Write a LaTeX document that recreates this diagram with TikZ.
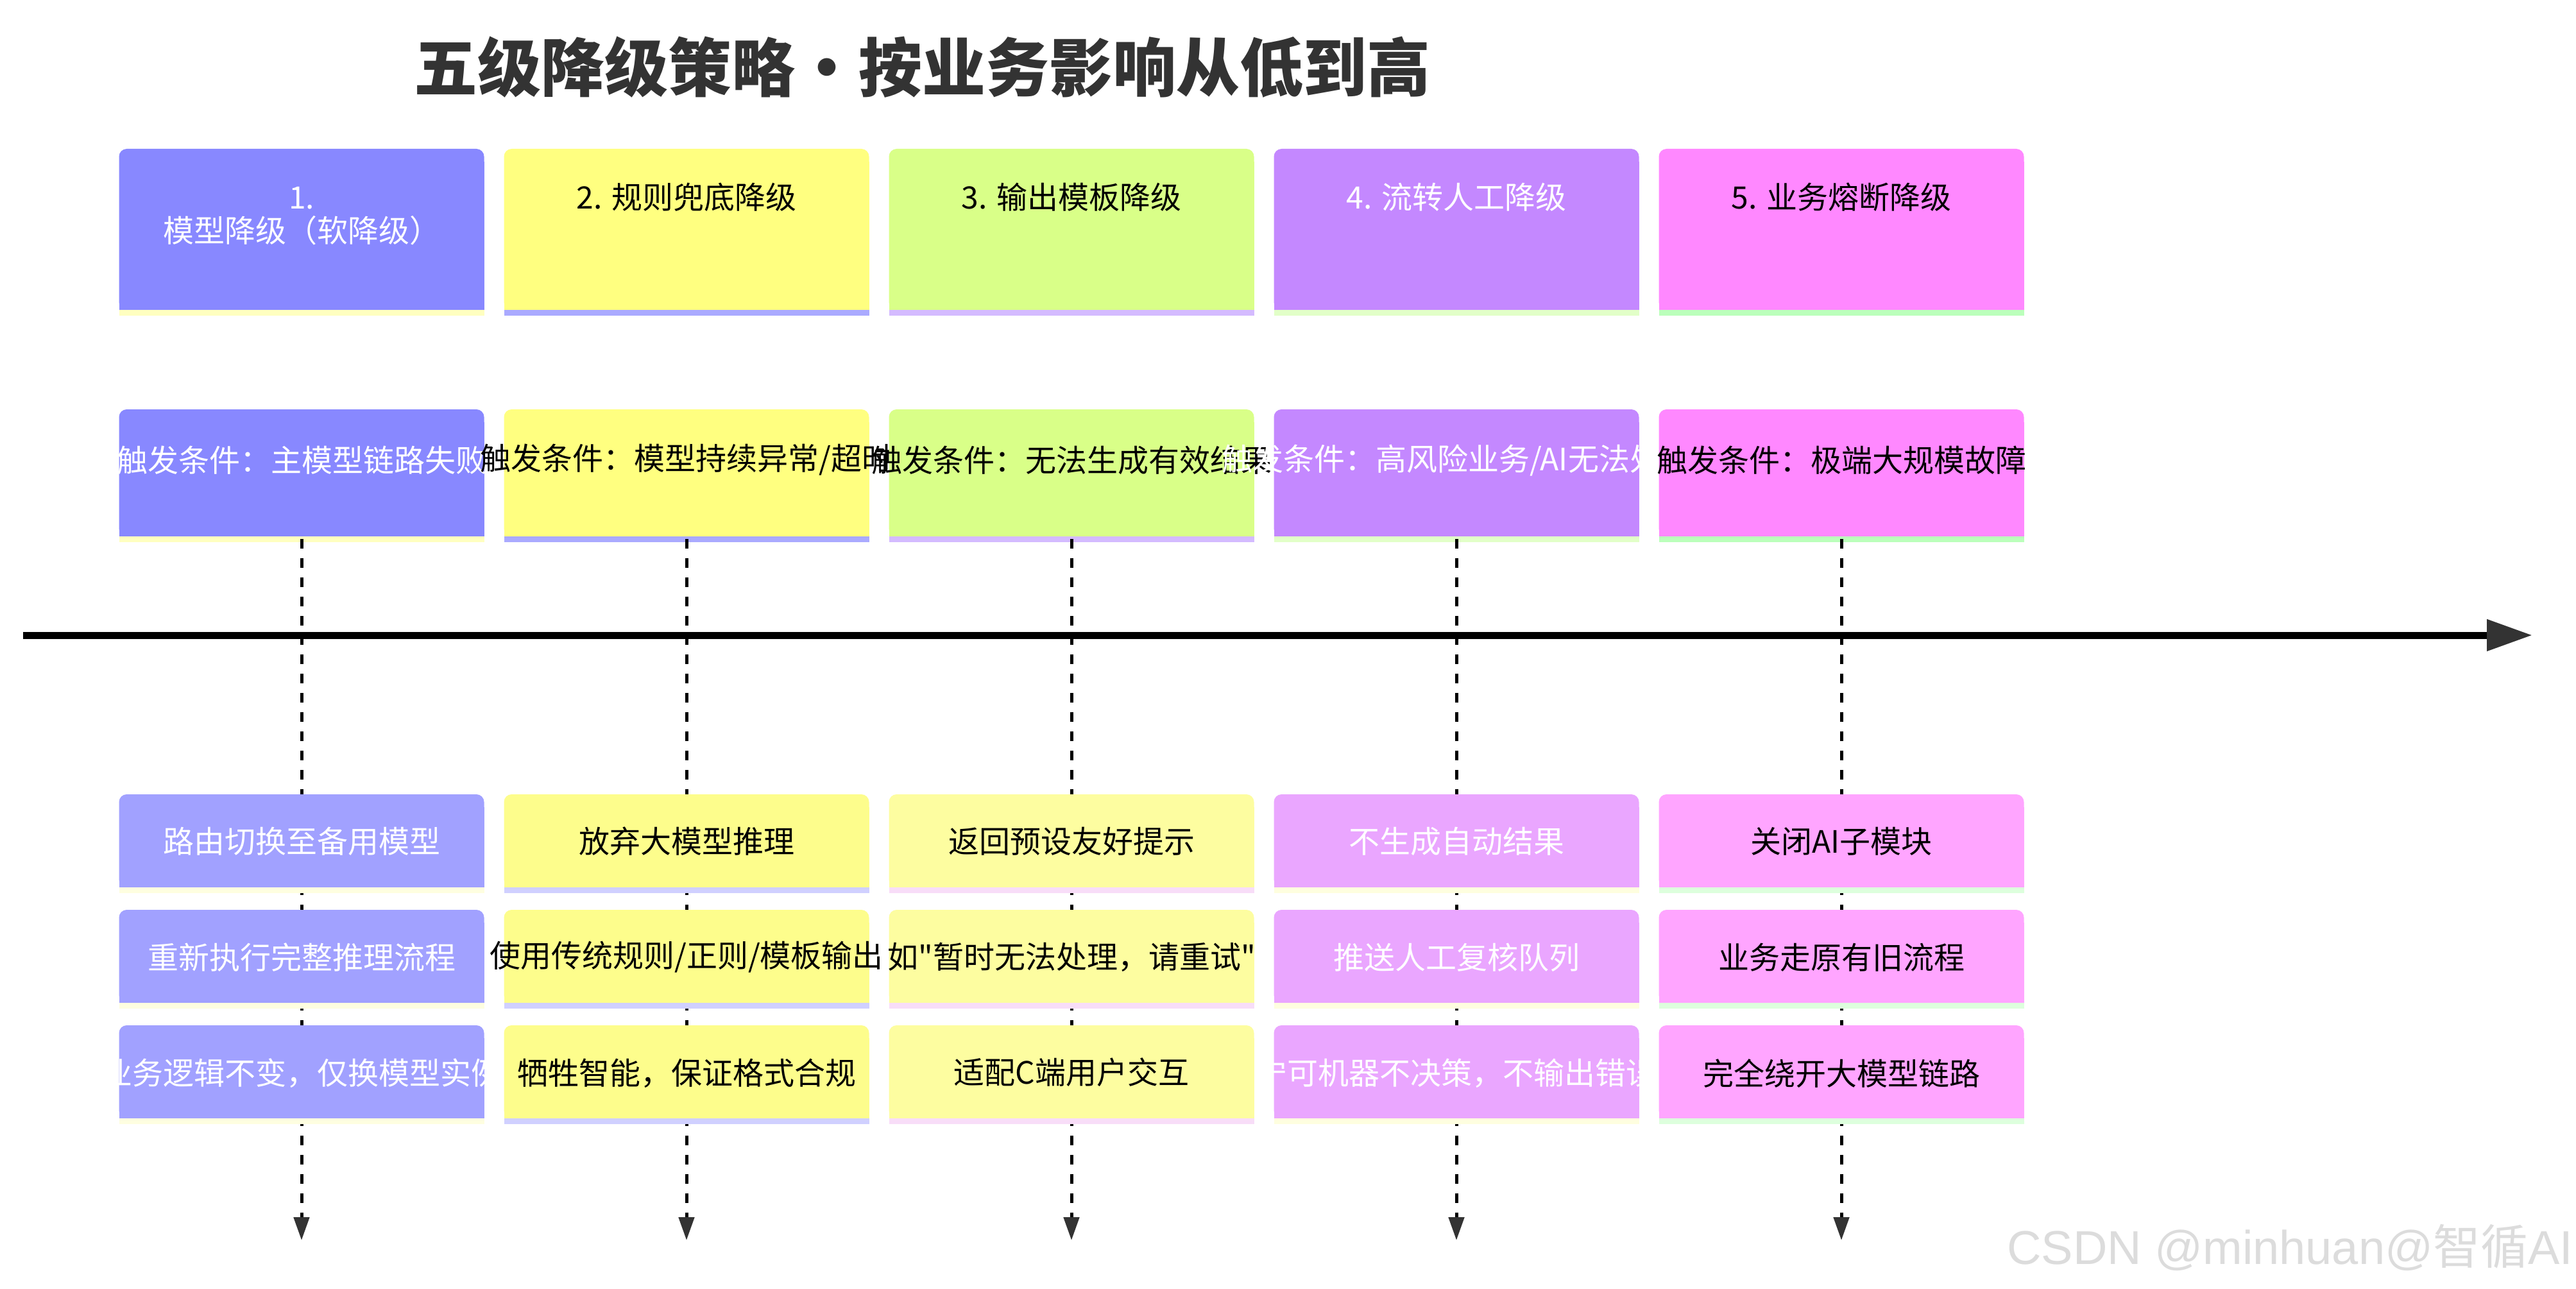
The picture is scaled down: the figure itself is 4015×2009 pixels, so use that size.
\documentclass[tikz,border=0pt]{standalone}
\usepackage{fontspec}
\setmainfont{Noto Sans CJK SC}
\newfontfamily\wmfont{Liberation Sans}
\usetikzlibrary{arrows.meta}
\definecolor{dk}{HTML}{333333}
\definecolor{wmc}{HTML}{DCDCDC}
% section header / trigger colours
\definecolor{hA}{HTML}{8888FF}\definecolor{sA}{HTML}{FFFFC0}
\definecolor{hB}{HTML}{FFFF80}\definecolor{sB}{HTML}{AAAAFF}
\definecolor{hC}{HTML}{D9FF88}\definecolor{sC}{HTML}{D4BBFF}
\definecolor{hD}{HTML}{C488FF}\definecolor{sD}{HTML}{E2FFC8}
\definecolor{hE}{HTML}{FF88FF}\definecolor{sE}{HTML}{BBFFBB}
% event colours
\definecolor{eA}{HTML}{A1A1FF}\definecolor{tA}{HTML}{FEFEE0}
\definecolor{eB}{HTML}{FDFD8C}\definecolor{tB}{HTML}{D0D0FF}
\definecolor{eC}{HTML}{FDFDA0}\definecolor{tC}{HTML}{F8DDF8}
\definecolor{eD}{HTML}{EAA6FF}\definecolor{tD}{HTML}{FEFEDF}
\definecolor{eE}{HTML}{FFA5FF}\definecolor{tE}{HTML}{DDFFDD}
% #1 centre x, #2 top y, #3 bottom y of the coloured part, #4 fill, #5 stripe
\newcommand\tlbox[5]{%
  \fill[#4, rounded corners=12pt] ({#1-284.5},#2) rectangle ({#1+284.5},#3);
  \fill[#4] ({#1-284.5},{#2+20}) rectangle ({#1+284.5},#3);
  \fill[#5] ({#1-284.5},#3) rectangle ({#1+284.5},{#3+9});}
% straight ASCII double quote, bypassing the tex-text mapping
\newcommand\sq{\XeTeXglyph\XeTeXcharglyph"22\relax}
\begin{document}
\begin{tikzpicture}[x=1pt,y=-1pt,
  txt/.style={inner sep=0pt, anchor=center, font=\fontsize{48}{50}\selectfont},
  wtxt/.style={txt, text=white},
  btxt/.style={txt, text=black},
  dashline/.style={line width=5pt, black, dash pattern=on 15pt off 15pt,
     -{Triangle[length=36pt,width=24pt,color=dk]}},
  axisline/.style={line width=11pt, black, -{Triangle[length=71pt,width=47pt,color=dk]}}]
\useasboundingbox (0,0) rectangle (4015,2009);
\fill[white] (0,0) rectangle (4015,2009);

% title
\node[inner sep=0pt, font=\fontsize{99}{104}\selectfont\bfseries, text=dk] (title) at (1437,105) {五级降级策略·按业务影响从低到高};

% header row
\tlbox{470}{232}{483}{hA}{sA}
\node[wtxt] (h1a) at (470,309) {1.};
\node[wtxt] (h1b) at (470,359) {模型降级（软降级）};
\tlbox{1070}{232}{483}{hB}{sB}
\node[btxt] (h2) at (1070,307) {2. 规则兜底降级};
\tlbox{1670}{232}{483}{hC}{sC}
\node[btxt] (h3) at (1670,307) {3. 输出模板降级};
\tlbox{2270}{232}{483}{hD}{sD}
\node[wtxt] (h4) at (2270,307) {4. 流转人工降级};
\tlbox{2870}{232}{483}{hE}{sE}
\node[btxt] (h5) at (2870,307) {5. 业务熔断降级};

% trigger row
\tlbox{470}{638}{836}{hA}{sA}
\node[wtxt] (g1) at (470,717) {触发条件：主模型链路失败};
\tlbox{1070}{638}{836}{hB}{sB}
\node[btxt] (g2) at (1070,717) {触发条件：模型持续异常/超时};
\tlbox{1670}{638}{836}{hC}{sC}
\node[btxt] (g3) at (1670,717) {触发条件：无法生成有效结果};
\tlbox{2270}{638}{836}{hD}{sD}
\node[wtxt] (g4) at (2270,717) {触发条件：高风险业务/AI无法处理};
\tlbox{2870}{638}{836}{hE}{sE}
\node[btxt] (g5) at (2870,717) {触发条件：极端大规模故障};

% dashed connectors
\foreach \i/\x in {1/470,2/1070,3/1670,4/2270,5/2870}{
  \coordinate (ds\i) at (\x,840);
  \coordinate (de\i) at (\x,1933);
  \draw[dashline] (ds\i) -- (de\i);
}

% time axis
\coordinate (axs) at (36,990);
\coordinate (axe) at (3947,990);
\draw[axisline] (axs) -- (axe);

% event rows
\tlbox{470}{1238}{1383}{eA}{tA}
\node[wtxt] (e11) at (470,1311) {路由切换至备用模型};
\tlbox{1070}{1238}{1383}{eB}{tB}
\node[btxt] (e21) at (1070,1311) {放弃大模型推理};
\tlbox{1670}{1238}{1383}{eC}{tC}
\node[btxt] (e31) at (1670,1311) {返回预设友好提示};
\tlbox{2270}{1238}{1383}{eD}{tD}
\node[wtxt] (e41) at (2270,1311) {不生成自动结果};
\tlbox{2870}{1238}{1383}{eE}{tE}
\node[btxt] (e51) at (2870,1311) {关闭AI子模块};

\tlbox{470}{1418}{1563}{eA}{tA}
\node[wtxt] (e12) at (470,1492) {重新执行完整推理流程};
\tlbox{1070}{1418}{1563}{eB}{tB}
\node[btxt] (e22) at (1070,1492) {使用传统规则/正则/模板输出};
\tlbox{1670}{1418}{1563}{eC}{tC}
\node[btxt] (e32) at (1670,1492) {如\sq 暂时无法处理，请重试\sq};
\tlbox{2270}{1418}{1563}{eD}{tD}
\node[wtxt] (e42) at (2270,1492) {推送人工复核队列};
\tlbox{2870}{1418}{1563}{eE}{tE}
\node[btxt] (e52) at (2870,1492) {业务走原有旧流程};

\tlbox{470}{1598}{1743}{eA}{tA}
\node[wtxt] (e13) at (470,1673) {业务逻辑不变，仅换模型实例};
\tlbox{1070}{1598}{1743}{eB}{tB}
\node[btxt] (e23) at (1070,1673) {牺牲智能，保证格式合规};
\tlbox{1670}{1598}{1743}{eC}{tC}
\node[btxt] (e33) at (1670,1671) {适配C端用户交互};
\tlbox{2270}{1598}{1743}{eD}{tD}
\node[wtxt] (e43) at (2270,1673) {宁可机器不决策，不输出错误};
\tlbox{2870}{1598}{1743}{eE}{tE}
\node[btxt] (e53) at (2870,1673) {完全绕开大模型链路};

% watermark
\node[inner sep=0pt, anchor=base west, font=\wmfont\fontsize{74}{74}\selectfont, text=wmc] (wm) at (3128,1970) {CSDN @minhuan@{\rmfamily 智循}AI};
\end{tikzpicture}
\end{document}
